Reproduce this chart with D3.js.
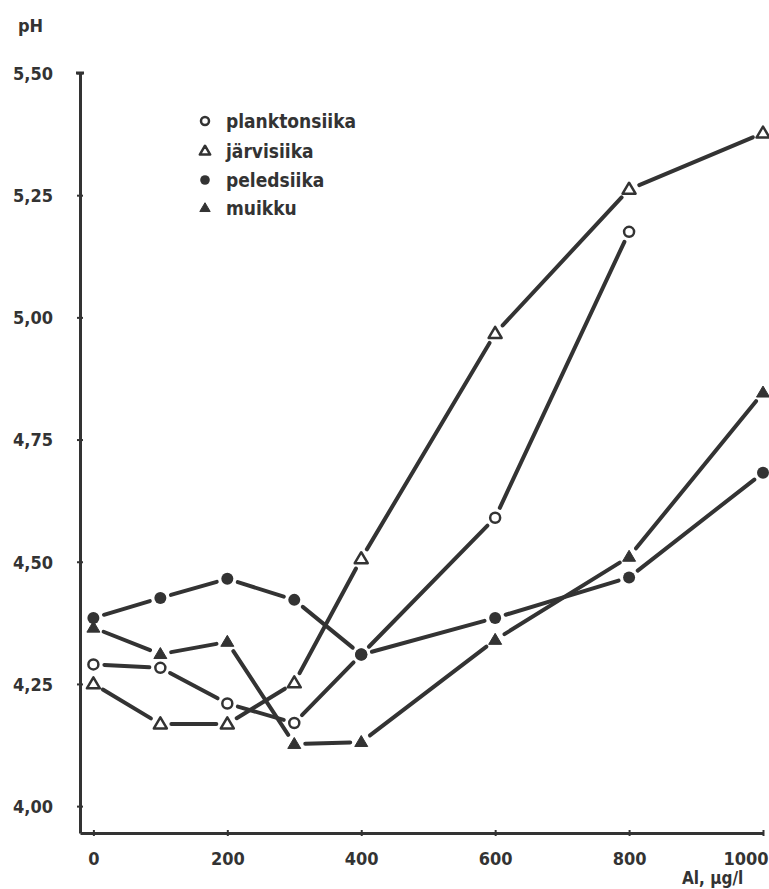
<!DOCTYPE html>
<html>
<head>
<meta charset="utf-8">
<script src="https://cdn.jsdelivr.net/npm/d3@7"></script>
<style>
  html, body { margin: 0; padding: 0; background: #fff; }
  svg text { font-family: "DejaVu Sans Condensed", "DejaVu Sans", sans-serif; font-weight: bold; fill: #333; }
</style>
</head>
<body>
<svg id="chart" width="769" height="889"></svg>
<script>
// ---- data ----
const alValues = [0, 100, 200, 300, 400, 600, 800, 1000];
const planktonsiika = [4.29, 4.283, 4.21, 4.17, 4.31, 4.59, 5.175, null];
const jarvisiika = [4.25, 4.168, 4.168, 4.252, 4.506, 4.967, 5.262, 5.377];
const peledsiika = [4.385, 4.426, 4.465, 4.422, 4.31, 4.385, 4.468, 4.682];
const muikku = [4.365, 4.311, 4.336, 4.127, 4.131, 4.34, 4.51, 4.846];
const xTicks = [0, 200, 400, 600, 800, 1000];
const yTicks = [4.00, 4.25, 4.50, 4.75, 5.00, 5.25, 5.50];
const seriesNames = ["planktonsiika", "järvisiika", "peledsiika", "muikku"];
const seriesSymbols = ["openCircle", "openTriangle", "filledCircle", "filledTriangle"];

const ink = "#333";
const svg = d3.select("#chart");

const x = d3.scaleLinear().domain([-20, 1000]).range([80, 763]);
const y = d3.scaleLinear().domain([3.945, 5.50]).range([833, 73]);

// axes
const fmt = d => d.toFixed(2).replace(".", ",");
const yAxis = svg.append("g").attr("transform", `translate(${x(-20)},0)`)
  .call(d3.axisLeft(y).tickValues(yTicks).tickSizeInner(3).tickSizeOuter(0).tickPadding(24).tickFormat(fmt));
yAxis.select(".domain").attr("stroke", ink).attr("stroke-width", 3);
yAxis.selectAll(".tick line").attr("x1", -3).attr("x2", 3).attr("stroke", ink).attr("stroke-width", 2);
yAxis.selectAll(".tick text").attr("font-size", 18).attr("font-family", null).attr("dy", "0.35em");
// cap at top
yAxis.append("line").attr("x1", -4).attr("x2", 4).attr("y1", y(5.50)).attr("y2", y(5.50))
  .attr("stroke", ink).attr("stroke-width", 3);

const xAxis = svg.append("g").attr("transform", `translate(0,${y(3.945)})`)
  .call(d3.axisBottom(x).tickValues(xTicks).tickSizeInner(3).tickSizeOuter(0).tickPadding(16).tickFormat(d3.format("d")));
xAxis.select(".domain").attr("stroke", ink).attr("stroke-width", 3);
xAxis.selectAll(".tick line").attr("y1", -3).attr("y2", 3).attr("stroke", ink).attr("stroke-width", 2);
xAxis.selectAll(".tick text").attr("font-size", 18).attr("font-family", null);
xAxis.selectAll(".tick text").filter(d => d === 1000).attr("text-anchor", "end").attr("dx", 5);

// axis titles
svg.append("text").attr("x", 18).attr("y", 32).attr("font-size", 18).text("pH");
svg.append("text").attr("x", 682).attr("y", 884).attr("font-size", 17).text("Al, µg/l");

// lines with gaps near markers
const seriesData = [planktonsiika, jarvisiika, peledsiika, muikku];
const gap = 11;
const lineGroup = svg.append("g");
seriesData.forEach(vals => {
  const pts = alValues.map((a, i) => vals[i] == null ? null : [x(a), y(vals[i])]).filter(p => p);
  for (let i = 0; i < pts.length - 1; i++) {
    const [x1, y1] = pts[i], [x2, y2] = pts[i + 1];
    const dx = x2 - x1, dy = y2 - y1, len = Math.hypot(dx, dy);
    const ux = dx / len, uy = dy / len;
    lineGroup.append("line")
      .attr("x1", x1 + ux * gap).attr("y1", y1 + uy * gap)
      .attr("x2", x2 - ux * gap).attr("y2", y2 - uy * gap)
      .attr("stroke", ink).attr("stroke-width", 4).attr("stroke-linecap", "round");
  }
});

// markers
function drawSymbol(g, type, cx, cy, s) {
  if (type === "openCircle") {
    g.append("circle").attr("cx", cx).attr("cy", cy).attr("r", 5 * s)
      .attr("fill", "#fff").attr("stroke", ink).attr("stroke-width", 2.5);
  } else if (type === "filledCircle") {
    g.append("circle").attr("cx", cx).attr("cy", cy).attr("r", 6 * s).attr("fill", ink);
  } else {
    const h = 11 * s, w = 13 * s;
    const p = `M${cx},${cy - h * 0.6}L${cx + w / 2},${cy + h * 0.4}L${cx - w / 2},${cy + h * 0.4}Z`;
    if (type === "openTriangle") {
      g.append("path").attr("d", p).attr("fill", "#fff").attr("stroke", ink)
        .attr("stroke-width", 2.5).attr("stroke-linejoin", "round");
    } else {
      g.append("path").attr("d", p).attr("fill", ink).attr("stroke", ink)
        .attr("stroke-width", 1).attr("stroke-linejoin", "round");
    }
  }
}
const markGroup = svg.append("g");
[1, 0, 3, 2].forEach(si => {
  const vals = seriesData[si];
  alValues.forEach((a, i) => {
    if (vals[i] == null) return;
    drawSymbol(markGroup, seriesSymbols[si], x(a), y(vals[i]), 1);
  });
});

// legend
const legendRows = [121, 151, 180, 208];
const lg = svg.append("g");
seriesNames.forEach((name, i) => {
  drawSymbol(lg, seriesSymbols[i], 205, legendRows[i], 0.8);
  lg.append("text").attr("x", 226).attr("y", legendRows[i]).attr("dy", "0.35em")
    .attr("font-size", 19).text(name);
});
</script>
</body>
</html>
